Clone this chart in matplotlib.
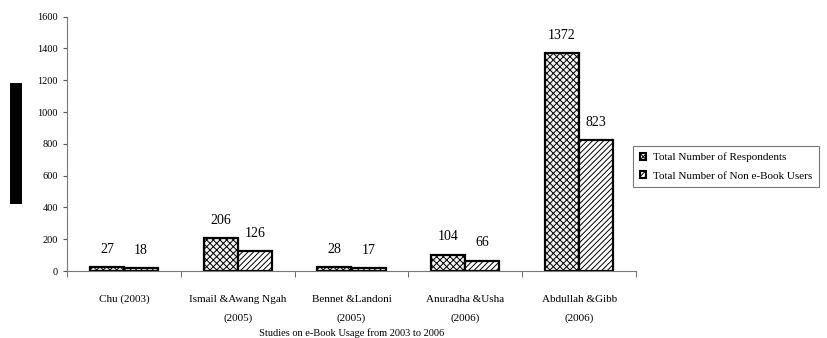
import matplotlib
matplotlib.use("Agg")
import matplotlib.pyplot as plt
import numpy as np
from matplotlib.patches import Rectangle

studies = ["Chu (2003)", "Ismail &Awang Ngah\n(2005)", "Bennet &Landoni\n(2005)",
           "Anuradha &Usha\n(2006)", "Abdullah &Gibb\n(2006)"]
respondents = [27, 206, 28, 104, 1372]
non_users = [18, 126, 17, 66, 823]
series_names = ["Total Number of Respondents", "Total Number of Non e-Book Users"]

plt.rcParams.update({"font.family": "serif", "font.serif": ["Liberation Serif", "DejaVu Serif"],
                     "hatch.linewidth": 0.7, "hatch.color": "#333333"})

fig = plt.figure(figsize=(8.27, 3.38), dpi=100)
ax = fig.add_axes([0.081, 0.198, 0.688, 0.753])

x = np.arange(len(studies))
w = 0.3
b1 = ax.bar(x - w / 2, respondents, w, facecolor="#f2f2f2", edgecolor="black", lw=1.6,
            hatch="xxxxx", label=series_names[0])
b2 = ax.bar(x + w / 2, non_users, w, facecolor="white", edgecolor="black", lw=1.6,
            hatch="//////", label=series_names[1])
for bars in (b1, b2):
    for r in bars:
        ax.annotate(f"{int(r.get_height())}", (r.get_x() + r.get_width() / 2, r.get_height()),
                    textcoords="offset points", xytext=(0, 8), ha="center", va="bottom", fontsize=10)

ax.set_xlim(-0.5, len(studies) - 0.5)
ax.set_ylim(0, 1600)
ax.set_yticks(range(0, 1601, 200))
ax.set_xticks(x)
ax.set_xticklabels(studies, fontsize=8, linespacing=2.3)
ax.set_xticks(np.arange(-0.5, len(studies), 1), minor=True)
ax.tick_params(axis="x", which="major", length=0, pad=17)
ax.tick_params(axis="x", which="minor", length=4, color="#555555", direction="out")
ax.tick_params(axis="y", labelsize=7.5, length=3, color="#555555")
for s in ("top", "right"):
    ax.spines[s].set_visible(False)
for s in ("left", "bottom"):
    ax.spines[s].set_color("#777777")
ax.set_xlabel("Studies on e-Book Usage from 2003 to 2006", fontsize=7.5)
ax.xaxis.set_label_coords(0.5, -0.225)

leg = ax.legend(loc="center left", bbox_to_anchor=(0.985, 0.41), fontsize=8, frameon=True,
                fancybox=False, edgecolor="#555555", handlelength=0.6, handleheight=0.6,
                handletextpad=0.6, borderpad=0.6, labelspacing=0.8)
leg.get_frame().set_linewidth(0.8)
for h in leg.legend_handles:
    h.set_linewidth(1.5)

# solid black block where the rotated y-axis title sits
fig.patches.append(Rectangle((10 / 827, 1 - 204 / 338), 12 / 827, 121 / 338,
                             transform=fig.transFigure, facecolor="black", edgecolor="none"))

fig.savefig("out.png", dpi=100)
